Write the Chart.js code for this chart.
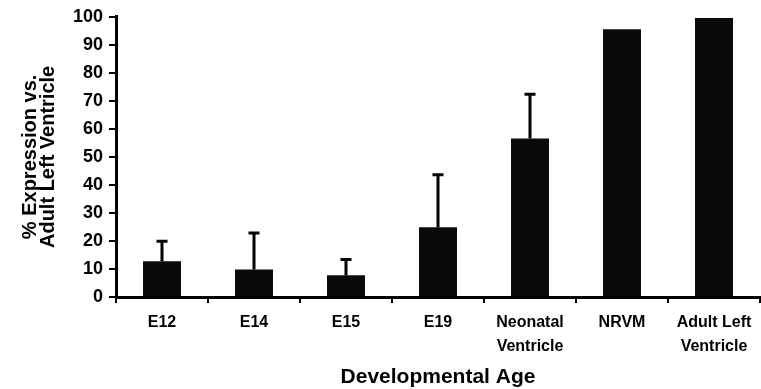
<!DOCTYPE html>
<html>
<head>
<meta charset="utf-8">
<script src="https://cdn.jsdelivr.net/npm/chart.js@4"></script>
<style>
  body { margin: 0; background: #fff; }
  #wrap { width: 761px; height: 389px; position: relative; }
</style>
</head>
<body>
<div id="wrap"><canvas id="exprChart"></canvas></div>
<script>
// data
var categories = ['E12', 'E14', 'E15', 'E19', ['Neonatal', 'Ventricle'], 'NRVM', ['Adult Left', 'Ventricle']];
var expression = [12.8, 9.8, 7.8, 24.9, 56.6, 95.6, 99.6];
var sdUp = [7.1, 13.0, 5.6, 18.7, 15.8, 0, 0];
var yTicks = [0, 10, 20, 30, 40, 50, 60, 70, 80, 90, 100];

var fontFamily = '"Liberation Sans", Arial, Helvetica, sans-serif';

// draws the upward-only error bars with caps
var errorBars = {
    id: 'errorBars',
    afterDatasetsDraw: function (chart) {
        var ctx = chart.ctx;
        var meta = chart.getDatasetMeta(0);
        var yScale = chart.scales.y;
        ctx.save();
        ctx.strokeStyle = '#000';
        ctx.lineWidth = 3;
        meta.data.forEach(function (bar, i) {
            if (!sdUp[i]) return;
            var x = bar.x;
            var yTop = yScale.getPixelForValue(expression[i] + sdUp[i]);
            ctx.beginPath();
            ctx.moveTo(x, bar.y);
            ctx.lineTo(x, yTop);
            ctx.moveTo(x - 5.5, yTop);
            ctx.lineTo(x + 5.5, yTop);
            ctx.stroke();
        });
        ctx.restore();
    }
};

var ctx = document.getElementById('exprChart').getContext('2d');
var exprChart = new Chart(ctx, {
    type: 'bar',
    data: {
        labels: categories,
        datasets: [{
            data: expression,
            backgroundColor: '#0a0a0a',
            borderWidth: 0,
            barPercentage: 0.413,
            categoryPercentage: 1
        }]
    },
    options: {
        responsive: true,
        maintainAspectRatio: false,
        animation: false,
        layout: { padding: { top: 15, left: 0, right: 1, bottom: 0 } },
        plugins: {
            legend: { display: false },
            tooltip: { enabled: false }
        },
        scales: {
            x: {
                grid: {
                    offset: true,
                    drawOnChartArea: false,
                    tickLength: 6,
                    color: '#000',
                    lineWidth: 2
                },
                border: { color: '#000', width: 3 },
                ticks: {
                    color: '#000',
                    padding: 8,
                    maxRotation: 0,
                    autoSkip: false,
                    font: { family: fontFamily, size: 16, weight: 'bold', lineHeight: 1.5 }
                },
                title: {
                    display: true,
                    text: 'Developmental Age',
                    color: '#000',
                    padding: { top: 0, bottom: 1 },
                    font: { family: fontFamily, size: 21, weight: 'bold', lineHeight: 1.0 }
                },
                afterFit: function (scale) { scale.height = 92; }
            },
            y: {
                min: 0,
                max: 100,
                afterBuildTicks: function (scale) {
                    scale.ticks = yTicks.map(function (v) { return { value: v }; });
                },
                grid: {
                    drawOnChartArea: false,
                    tickLength: 7,
                    color: '#000',
                    lineWidth: 2
                },
                border: { color: '#000', width: 3 },
                ticks: {
                    color: '#000',
                    padding: 6,
                    font: { family: fontFamily, size: 18, weight: 'bold' }
                },
                title: {
                    display: true,
                    text: ['% Expression vs.', 'Adult Left Ventricle'],
                    color: '#000',
                    padding: { top: 22, bottom: 0 },
                    font: { family: fontFamily, size: 20, weight: 'bold', lineHeight: 0.88 }
                },
                afterFit: function (scale) { scale.width = 116; }
            }
        }
    },
    plugins: [errorBars]
});
</script>
</body>
</html>
